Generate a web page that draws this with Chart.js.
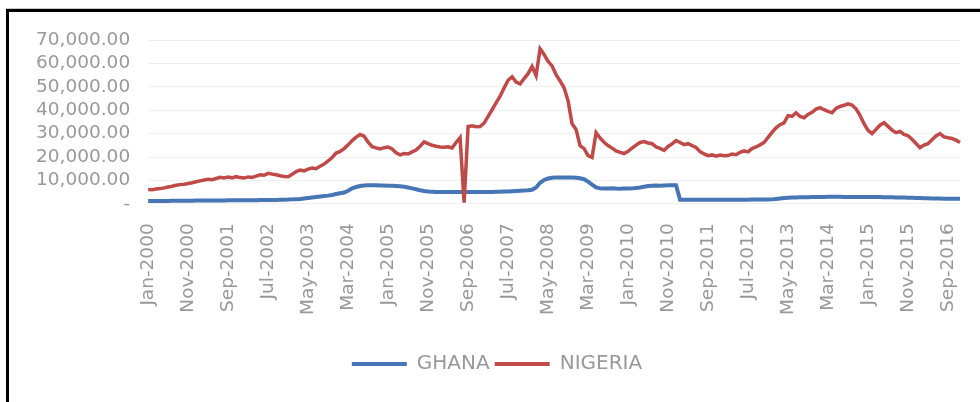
<!DOCTYPE html>
<html>
<head>
<meta charset="utf-8">
<script src="https://cdn.jsdelivr.net/npm/chart.js@4.4.1/dist/chart.umd.min.js"></script>
<style>
  html, body { margin: 0; padding: 0; background: #fff; }
  #wrap { position: relative; width: 980px; height: 402px; overflow: hidden; }
  #frame {
    position: absolute; left: 6px; top: 9px; width: 1000px; height: 420px;
    border-left: 3px solid #000; border-top: 3px solid #000;
    box-shadow: 0 -1px 0 #c8c8c8;
    pointer-events: none;
  }
  canvas { position: absolute; left: 0; top: 0; }
</style>
</head>
<body>
<div id="wrap">
  <canvas id="chart" width="980" height="402"></canvas>
  <div id="frame"></div>
</div>
<script>
// monthly series, Jan 2000 - Dec 2016
const monthNames = ['Jan', 'Feb', 'Mar', 'Apr', 'May', 'Jun', 'Jul', 'Aug', 'Sep', 'Oct', 'Nov', 'Dec'];
const years = [2000, 2001, 2002, 2003, 2004, 2005, 2006, 2007, 2008, 2009, 2010, 2011, 2012, 2013, 2014, 2015, 2016];
const labelEvery = 10;

const ghana = [
  1200, 1200, 1200, 1250, 1250, 1250, 1300, 1300, 1300, 1350, 1350, 1350,
  1400, 1400, 1400, 1400, 1450, 1450, 1450, 1450, 1500, 1500, 1500, 1500,
  1500, 1550, 1550, 1550, 1600, 1600, 1600, 1650, 1650, 1700, 1750, 1800,
  1900, 2000, 2100, 2300, 2500, 2700, 2900, 3100, 3300, 3500, 3800, 4200,
  4500, 4800, 5600, 6600, 7200, 7600, 7800, 7900, 7900, 7900, 7800, 7800,
  7700, 7700, 7600, 7500, 7300, 7000, 6600, 6200, 5800, 5500, 5300, 5200,
  5100, 5100, 5000, 5000, 5000, 5000, 5000, 5000, 5000, 5000, 5000, 5000,
  5100, 5100, 5100, 5200, 5200, 5300, 5300, 5400, 5500, 5600, 5700, 5800,
  6000, 7000, 9000, 10200, 10800, 11100, 11300, 11300, 11300, 11300, 11200, 11100,
  10900, 10500, 9500, 8200, 7000, 6600, 6500, 6500, 6700, 6500, 6400, 6500,
  6500, 6600, 6800, 7000, 7300, 7600, 7700, 7800, 7700, 7800, 7900, 7900,
  7900, 1700, 1700, 1700, 1700, 1700, 1700, 1700, 1700, 1700, 1700, 1700,
  1700, 1700, 1700, 1700, 1750, 1750, 1750, 1800, 1800, 1800, 1850, 1850,
  1900, 2100, 2300, 2500, 2600, 2700, 2700, 2800, 2800, 2800, 2900, 2900,
  2900, 2900, 3000, 3000, 3000, 3000, 2900, 2900, 2900, 2900, 2900, 2900,
  2900, 2900, 2900, 2900, 2800, 2800, 2800, 2700, 2700, 2700, 2600, 2600,
  2500, 2500, 2400, 2400, 2300, 2300, 2300, 2200, 2200, 2200, 2200, 2200
];

const nigeria = [
  6100, 6000, 6300, 6500, 6800, 7200, 7500, 7900, 8200, 8400, 8700, 9000,
  9400, 9800, 10200, 10500, 10300, 10800, 11300, 11000, 11400, 11100, 11600, 11200,
  11000, 11500, 11300, 11800, 12400, 12200, 13000, 12700, 12400, 12000, 11700, 11600,
  12600, 13800, 14400, 14100, 14800, 15300, 15000, 16100, 17000, 18300, 19800, 21700,
  22400, 23600, 25200, 27000, 28500, 29600, 28900, 26300, 24400, 23900, 23500, 24000,
  24300, 23400, 21800, 20900, 21500, 21300, 22200, 23000, 24600, 26500, 25700, 25000,
  24600, 24300, 24200, 24400, 23900, 26200, 28300, 500, 33000, 33300, 32900, 33000,
  34500, 37400, 40200, 43100, 46000, 49500, 52800, 54300, 52000, 51300, 53500, 55600,
  58700, 54800, 66200, 63800, 60900, 58900, 55200, 52500, 49600, 44000, 34200, 31800,
  24800, 23600, 20600, 19800, 30400, 28100, 26300, 24900, 23800, 22600, 22000, 21500,
  22400, 23800, 25100, 26200, 26600, 26000, 25700, 24300, 23700, 22800, 24500, 25600,
  27000, 26200, 25300, 25700, 24900, 24100, 22300, 21300, 20600, 20900, 20400, 20800,
  20500, 20600, 21300, 21000, 22000, 22600, 22200, 23600, 24300, 25200, 26200, 28400,
  30500, 32500, 33800, 34600, 37700, 37400, 38900, 37300, 36800, 38200, 39100, 40500,
  41100, 40200, 39500, 38900, 40800, 41600, 42100, 42700, 42200, 40600, 37800, 34200,
  31400, 30000, 31800, 33600, 34700, 33100, 31500, 30400, 30900, 29700, 29100, 27600,
  25800, 24000, 25100, 25700, 27400, 29000, 30000, 28600, 28200, 27900, 27200, 26200
];

const labels = [];
years.forEach(y => monthNames.forEach(m => labels.push(m + '-' + y)));

const textColor = '#999999';
const fontFamily = '"DejaVu Sans", sans-serif';

new Chart(document.getElementById('chart').getContext('2d'), {
  type: 'line',
  data: {
    labels: labels,
    datasets: [
      {
        label: 'GHANA',
        data: ghana,
        borderColor: '#4677b4',
        backgroundColor: '#4677b4',
        borderWidth: 4,
        pointRadius: 0,
        order: 1
      },
      {
        label: 'NIGERIA',
        data: nigeria,
        borderColor: '#bf4a47',
        backgroundColor: '#bf4a47',
        borderWidth: 3.5,
        pointRadius: 0,
        order: 0
      }
    ]
  },
  options: {
    responsive: false,
    animation: false,
    layout: { padding: { left: 34, right: 20, top: 40, bottom: 18 } },
    plugins: {
      tooltip: { enabled: false },
      legend: {
        position: 'bottom',
        labels: {
          color: textColor,
          font: { family: fontFamily, size: 20 },
          boxWidth: 55,
          boxHeight: 4,
          padding: 5,
          sort: (a, b) => a.datasetIndex - b.datasetIndex,
          // legend keys as flat bars, no outline
          generateLabels: chart => Chart.defaults.plugins.legend.labels.generateLabels(chart)
            .map(item => Object.assign(item, { lineWidth: 0 }))
        }
      }
    },
    scales: {
      x: {
        grid: { display: false, drawTicks: false },
        border: { display: false },
        ticks: {
          autoSkip: false,
          maxRotation: 90,
          minRotation: 90,
          padding: 19.5,
          color: textColor,
          font: { family: fontFamily, size: 18.5 },
          callback: function (value, index) {
            return index % labelEvery === 0 ? this.getLabelForValue(value) : '';
          }
        },
        afterFit: function (scale) {
          scale.height += 14.5;
          scale.paddingRight = 0;
        }
      },
      y: {
        min: 0,
        max: 70000,
        grid: { color: '#efefef', drawTicks: false },
        border: { display: false },
        ticks: {
          autoSkip: false,
          stepSize: 10000,
          padding: 18,
          color: textColor,
          font: { family: fontFamily, size: 18.5 },
          callback: v => v === 0 ? '-' : v.toLocaleString('en-US', { minimumFractionDigits: 2, maximumFractionDigits: 2 })
        },
        afterFit: function (scale) { scale.width -= 16; }
      }
    }
  }
});
</script>
</body>
</html>
